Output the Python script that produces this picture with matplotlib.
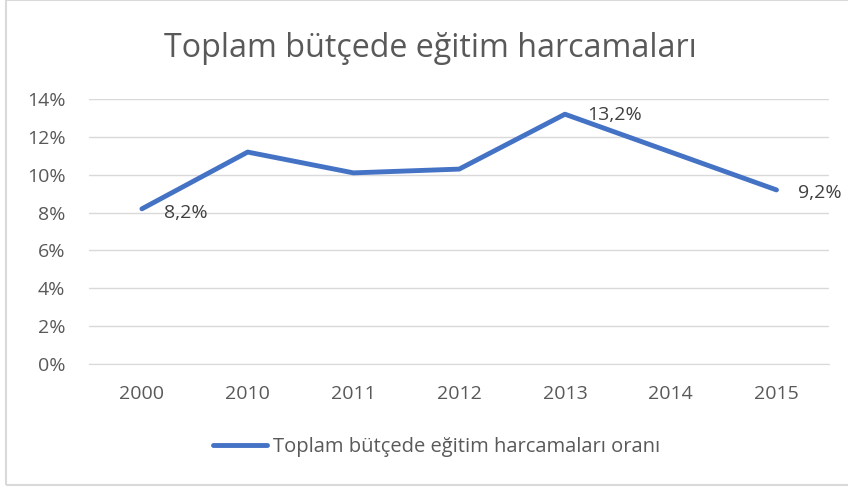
import matplotlib.pyplot as plt
from matplotlib.patches import Rectangle

years = ["2000", "2010", "2011", "2012", "2013", "2014", "2015"]
oran = [8.2, 11.2, 10.1, 10.3, 13.2, 11.2, 9.2]
etiketli = {0: "8,2%", 4: "13,2%", 6: "9,2%"}
yticks = [0, 2, 4, 6, 8, 10, 12, 14]

plt.rcParams["font.family"] = ["Open Sans", "DejaVu Sans"]
gri = "#595959"

fig = plt.figure(figsize=(8.48, 4.88), dpi=100)
# dış çerçeve (sağ kenar görüntünün dışında)
fig.patches.append(Rectangle((0.0075, 0.006), 1.0, 0.993, transform=fig.transFigure,
                             fill=False, edgecolor="#d9d9d9", linewidth=1.5))
ax = fig.add_axes([0.105, 0.254, 0.873, 0.543])

x = list(range(len(years)))
ax.plot(x, oran, color="#4472C4", linewidth=3.5, solid_capstyle="round",
        label="Toplam bütçede eğitim harcamaları oranı")

# veri etiketleri (piksel ofsetleri)
ofs = {0: (22, -4), 4: (22, -1), 6: (22, -3)}
for i, txt in etiketli.items():
    dx, dy = ofs[i]
    ax.annotate(txt, (x[i], oran[i]), xytext=(dx * 0.72, dy * 0.72),
                textcoords="offset points", fontsize=14, color="#404040",
                va="center", ha="left")

ax.set_xlim(-0.5, len(years) - 0.5)
ax.set_ylim(0, 14)
ax.set_yticks(yticks)
ax.set_yticklabels([f"{v}%" for v in yticks])
ax.set_xticks(x)
ax.set_xticklabels(years)
ax.tick_params(axis="both", length=0, labelsize=14, colors=gri)
ax.tick_params(axis="x", pad=15)
ax.tick_params(axis="y", pad=17)
ax.grid(axis="y", color="#d9d9d9", linewidth=1)
ax.set_axisbelow(True)
for s in ["top", "right", "left"]:
    ax.spines[s].set_visible(False)
ax.spines["bottom"].set_color("#d9d9d9")

fig.text(0.508, 0.9, "Toplam bütçede eğitim harcamaları", ha="center", va="center",
         fontsize=23.2, color=gri)

fig.legend(loc="center", bbox_to_anchor=(0.515, 0.084), frameon=False, fontsize=14.5,
           handlelength=2.7, handletextpad=0.3, labelcolor=gri)

fig.savefig("out.png", dpi=100)
